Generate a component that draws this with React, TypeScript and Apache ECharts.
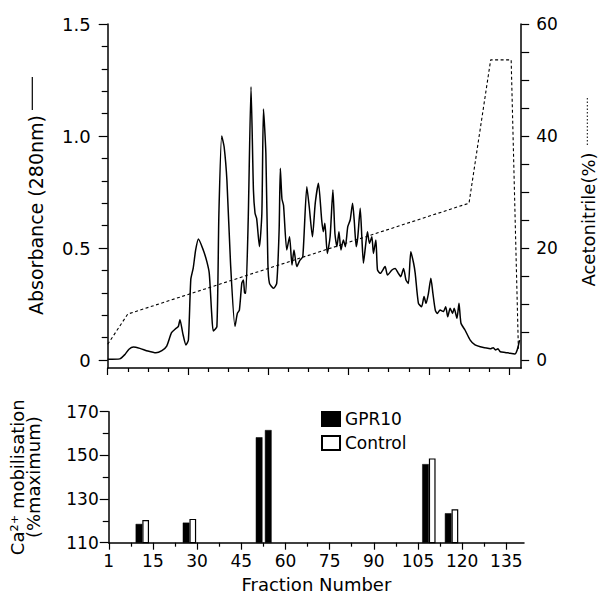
import React, { useEffect, useRef } from "react";
import * as echarts from "echarts";

const FONT = "DejaVu Sans";

// ---- Top panel: elution profile (time units of the x axis, absorbance at 280 nm) ----
const elutionTime = [
  0, 3.0, 4.3, 5.3, 6.4, 8.0, 10.0, 12.0, 13.5, 14.7, 15.9, 17.0, 17.6, 18.0, 18.7, 19.5, 20.1,
  20.7, 21.3, 21.9, 22.6, 23.8, 24.7, 25.3, 25.9, 26.3, 27.2, 27.7, 28.4, 29.0, 29.7, 30.6, 31.7,
  32.3, 32.8, 33.4, 33.8, 34.1, 34.4, 35.0, 35.7, 36.3, 36.7, 37.1, 37.8, 38.4, 38.8, 39.4, 39.9,
  40.3, 41.3, 42.1, 42.7, 43.0, 43.4, 43.8, 44.6, 45.3, 45.9, 46.4, 47.1, 47.9, 48.6, 49.6, 50.2,
  51.0, 51.7, 52.5, 53.3, 53.7, 54.1, 54.7, 55.4, 56.1, 56.6, 57.1, 57.6, 58.1, 58.7, 59.2, 59.8,
  60.4, 61.0, 61.4, 61.9, 62.3, 62.9, 63.3, 63.7, 64.2, 64.7, 65.2, 65.8, 66.2, 66.8, 67.2, 67.9,
  69.1, 69.7, 70.8, 71.6, 72.4, 73.0, 73.7, 74.3, 74.9, 75.5, 76.2, 76.6, 77.4, 78.2, 78.8, 79.3,
  79.9, 80.5, 81.0, 81.6, 82.1, 82.8, 83.6, 84.2, 84.7, 85.3, 85.9, 86.3, 87.0, 87.5, 88.0, 89.0,
  90.3, 91.5, 92.8, 94.0, 95.3, 96.0, 96.6, 97.2, 97.8, 99.0, 100.2, 101.4, 102.0, 102.6,
];
const absorbance = [
  0.003, 0.005, 0.025, 0.048, 0.058, 0.052, 0.04, 0.032, 0.042, 0.062, 0.122, 0.141, 0.15, 0.18,
  0.119, 0.067, 0.089, 0.36, 0.41, 0.49, 0.54, 0.491, 0.439, 0.387, 0.208, 0.13, 0.149, 0.655, 1.0,
  0.952, 0.8, 0.43, 0.15, 0.208, 0.223, 0.342, 0.357, 0.3, 0.298, 0.625, 1.22, 0.759, 0.655, 0.632,
  0.506, 0.655, 1.12, 0.922, 0.43, 0.342, 0.32, 0.342, 0.58, 0.856, 0.72, 0.69, 0.491, 0.55, 0.424,
  0.491, 0.417, 0.446, 0.461, 0.774, 0.684, 0.55, 0.7, 0.789, 0.625, 0.573, 0.61, 0.476, 0.55,
  0.759, 0.565, 0.506, 0.573, 0.491, 0.536, 0.506, 0.595, 0.625, 0.7, 0.625, 0.506, 0.55, 0.677,
  0.55, 0.432, 0.506, 0.573, 0.521, 0.55, 0.476, 0.536, 0.402, 0.387, 0.417, 0.379, 0.402, 0.409,
  0.387, 0.372, 0.409, 0.357, 0.342, 0.483, 0.432, 0.387, 0.253, 0.238, 0.283, 0.253, 0.298, 0.365,
  0.298, 0.223, 0.208, 0.223, 0.216, 0.238, 0.193, 0.231, 0.208, 0.231, 0.186, 0.253, 0.164, 0.134,
  0.089, 0.067, 0.059, 0.055, 0.05, 0.055, 0.045, 0.05, 0.037, 0.034, 0.03, 0.027, 0.045, 0.089,
];

// acetonitrile gradient (%)
const gradientTime = [0, 5, 90, 95.4, 100.5, 102.3];
const acetonitrile = [2.8, 8.2, 28, 53.6, 53.6, 2];

// ---- Bottom panel: Ca2+ mobilisation per fraction ----
const fractions = [11.4, 27.4, 52.2, 55.3, 108.7, 116.4];
const gpr10 = [118.6, 119.2, 158.3, 161.6, 146.0, 123.5];
const control = [120.4, 120.9, 110, 110, 148.6, 125.3];

// ---- Tick values / labels ----
const timeMajorTicks = [0, 20, 40, 60, 80, 100];
const timeMinorTicks = [5, 10, 15, 25, 30, 35, 45, 50, 55, 65, 70, 75, 85, 90, 95];
const absorbanceTicks = [0, 0.5, 1.0, 1.5];
const absorbanceMinorTicks = [0.1, 0.2, 0.3, 0.4, 0.6, 0.7, 0.8, 0.9, 1.1, 1.2, 1.3, 1.4];
const acetonitrileTicks = [0, 20, 40, 60];
const acetonitrileTickMarks = [0, 5, 10, 15, 20, 25, 30, 35, 40, 45, 50, 55, 60];
const fractionTicks = [0, 15, 30, 45, 60, 75, 90, 105, 120, 135];
const fractionTickLabels = ["1", "15", "30", "45", "60", "75", "90", "105", "120", "135"];
const fractionMinorTicks = [7.5, 22.5, 37.5, 52.5, 67.5, 82.5, 97.5, 112.5, 127.5];

const black = "#000";

export default function App() {
  const ref = useRef<HTMLDivElement>(null);

  useEffect(() => {
    if (!ref.current) return;
    const chart = echarts.init(ref.current, undefined, { renderer: "svg" });

    const tickStyle = { color: black, width: 1.2 };
    const axisLineStyle = { color: black, width: 1.5 };

    const option: any = {
      animation: false,
      backgroundColor: "#fff",
      textStyle: { fontFamily: FONT, color: black },
      grid: [
        { left: 107.7, top: 24, width: 413.5, height: 344 },
        { left: 107, top: 411.7, width: 417, height: 131 },
      ],
      xAxis: [
        {
          gridIndex: 0, type: "value", position: "bottom", min: 0, max: 103,
          axisLine: { onZero: false, lineStyle: axisLineStyle },
          axisTick: { customValues: timeMajorTicks, length: 7, lineStyle: tickStyle },
          axisLabel: { show: false }, splitLine: { show: false },
        },
        {
          gridIndex: 0, type: "value", position: "bottom", min: 0, max: 103,
          axisLine: { show: false, onZero: false },
          axisTick: { customValues: timeMinorTicks, length: 4, lineStyle: tickStyle },
          axisLabel: { show: false }, splitLine: { show: false },
        },
        {
          gridIndex: 1, type: "value", position: "bottom", min: 0, max: 141,
          axisLine: { onZero: false, lineStyle: axisLineStyle },
          axisTick: { customValues: fractionTicks, length: 7, lineStyle: tickStyle },
          axisLabel: {
            customValues: fractionTicks,
            formatter: (v: number) => {
              const i = fractionTicks.findIndex((t) => Math.abs(t - v) < 1e-6);
              return i >= 0 ? fractionTickLabels[i] : "";
            },
            margin: 10, color: black, fontFamily: FONT, fontSize: 17,
          },
          splitLine: { show: false },
          name: "Fraction Number", nameLocation: "middle", nameGap: 33,
          nameTextStyle: { color: black, fontFamily: FONT, fontSize: 18 },
        },
        {
          gridIndex: 1, type: "value", position: "bottom", min: 0, max: 141,
          axisLine: { show: false, onZero: false },
          axisTick: { customValues: fractionMinorTicks, length: 4, lineStyle: tickStyle },
          axisLabel: { show: false }, splitLine: { show: false },
        },
      ],
      yAxis: [
        {
          gridIndex: 0, type: "value", position: "left", min: -0.0357, max: 1.5,
          axisLine: { show: true, onZero: false, lineStyle: axisLineStyle },
          axisTick: { show: true, customValues: absorbanceTicks, length: 9, lineStyle: tickStyle },
          axisLabel: {
            customValues: absorbanceTicks,
            formatter: (v: number) => (Math.abs(v) < 1e-9 ? "0" : v.toFixed(1)),
            margin: 17, color: black, fontFamily: FONT, fontSize: 18,
          },
          splitLine: { show: false },
        },
        {
          gridIndex: 0, type: "value", position: "right", min: -1.43, max: 60,
          axisLine: { show: true, onZero: false, lineStyle: axisLineStyle },
          axisTick: { show: true, customValues: acetonitrileTickMarks, length: 8, lineStyle: tickStyle },
          axisLabel: {
            customValues: acetonitrileTicks,
            margin: 15, color: black, fontFamily: FONT, fontSize: 17,
          },
          splitLine: { show: false },
        },
        {
          gridIndex: 0, type: "value", position: "left", min: -0.0357, max: 1.5,
          axisLine: { show: false, onZero: false },
          axisTick: { show: true, customValues: absorbanceMinorTicks, length: 6, lineStyle: tickStyle },
          axisLabel: { show: false }, splitLine: { show: false },
        },
        {
          gridIndex: 1, type: "value", position: "left", min: 110, max: 170, interval: 20,
          axisLine: { show: true, onZero: false, lineStyle: axisLineStyle },
          axisTick: { show: true, length: 9, lineStyle: tickStyle },
          minorTick: { show: true, splitNumber: 2, length: 6, lineStyle: tickStyle },
          axisLabel: { margin: 10, color: black, fontFamily: FONT, fontSize: 17 },
          splitLine: { show: false }, minorSplitLine: { show: false },
          name: "Ca²⁺ mobilisation\n(%maximum)", nameLocation: "middle", nameRotate: 90, nameGap: 67,
          nameTextStyle: { color: black, fontFamily: FONT, fontSize: 18, lineHeight: 16.5 },
        },
      ],
      legend: {
        data: ["GPR10", "Control"],
        orient: "vertical", left: 316, top: 405.5,
        itemWidth: 18, itemHeight: 14, itemGap: 7, selectedMode: false, icon: "rect",
        textStyle: { color: black, fontFamily: FONT, fontSize: 17, lineHeight: 17 },
      },
      series: [
        {
          name: "Absorbance", type: "line", xAxisIndex: 0, yAxisIndex: 0,
          data: elutionTime.map((t, i) => [t, absorbance[i]]),
          showSymbol: false, smooth: 0.2,
          lineStyle: { color: black, width: 1.5 },
        },
        {
          name: "Acetonitrile", type: "line", xAxisIndex: 0, yAxisIndex: 1,
          data: gradientTime.map((t, i) => [t, acetonitrile[i]]),
          showSymbol: false,
          lineStyle: { color: black, width: 1.1, type: [3, 2.5] },
        },
        {
          name: "GPR10", type: "bar", xAxisIndex: 2, yAxisIndex: 3,
          data: fractions.map((f, i) => [f, gpr10[i]]),
          barWidth: 6.7, barGap: "0%",
          itemStyle: { color: black, borderColor: black, borderWidth: 0.5 },
        },
        {
          name: "Control", type: "bar", xAxisIndex: 2, yAxisIndex: 3,
          data: fractions.map((f, i) => [f, control[i]]),
          barWidth: 6.7, barGap: "0%",
          itemStyle: { color: "#fff", borderColor: black, borderWidth: 1.2 },
        },
      ],
      graphic: [
        {
          type: "text", x: 35.5, y: 215, rotation: Math.PI / 2,
          style: {
            text: "Absorbance (280nm)", fontSize: 19, fontFamily: FONT, fill: black,
            align: "center", verticalAlign: "middle", textAlign: "center", textVerticalAlign: "middle",
          },
        },
        {
          type: "line", shape: { x1: 32.3, y1: 77, x2: 32.3, y2: 110 },
          style: { stroke: black, lineWidth: 1.2 },
        },
        {
          type: "text", x: 588.5, y: 219.5, rotation: Math.PI / 2,
          style: {
            text: "Acetonitrile(%)", fontSize: 18, fontFamily: FONT, fill: black,
            align: "center", verticalAlign: "middle", textAlign: "center", textVerticalAlign: "middle",
          },
        },
        {
          type: "line", shape: { x1: 587.3, y1: 98, x2: 587.3, y2: 147 },
          style: { stroke: black, lineWidth: 1, lineDash: [1.5, 2] },
        },
      ],
    };

    chart.setOption(option);
    return () => chart.dispose();
  }, []);

  return (
    <div
      ref={ref}
      style={{ position: "fixed", left: 0, top: 0, width: 599, height: 597, background: "#fff" }}
    />
  );
}
